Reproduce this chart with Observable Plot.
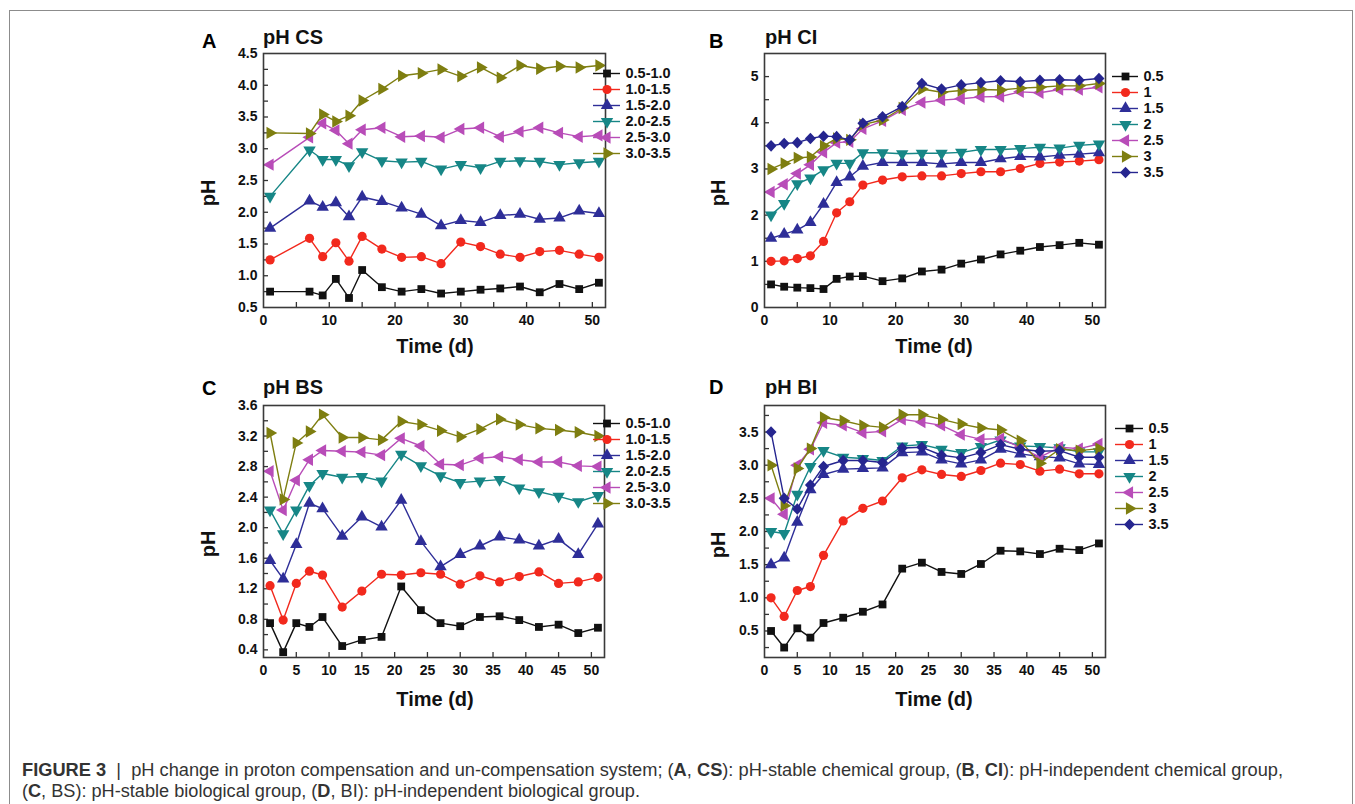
<!DOCTYPE html>
<html>
<head>
<meta charset="utf-8">
<script src="https://cdn.jsdelivr.net/npm/d3@7"></script>
<script src="https://cdn.jsdelivr.net/npm/@observablehq/plot@0.6"></script>
<style>
  html, body { margin: 0; padding: 0; background: #fff; }
  body { width: 1355px; height: 804px; position: relative; overflow: hidden; font-family: "Liberation Sans", Arial, sans-serif; }
  .abs { position: absolute; }
  #box { position: absolute; left: 9px; top: 10px; width: 1342px; height: 820px; border: 1.5px solid #8c8c8c; }
</style>
</head>
<body>
<div id="box"></div>
<div id="root"></div>
<script>
// ---- Panel A: pH-stable chemical group (CS) ----
const csDays = [1, 7, 9, 11, 13, 15, 18, 21, 24, 27, 30, 33, 36, 39, 42, 45, 48, 51];
const cs05 = [0.75, 0.75, 0.69, 0.95, 0.65, 1.09, 0.82, 0.75, 0.79, 0.72, 0.75, 0.78, 0.80, 0.83, 0.74, 0.87, 0.79, 0.89];
const cs10 = [1.25, 1.59, 1.30, 1.52, 1.23, 1.62, 1.42, 1.29, 1.30, 1.19, 1.53, 1.46, 1.34, 1.29, 1.38, 1.40, 1.34, 1.29];
const cs15 = [1.75, 2.18, 2.08, 2.15, 1.93, 2.24, 2.17, 2.07, 1.97, 1.79, 1.87, 1.84, 1.95, 1.97, 1.89, 1.91, 2.02, 1.98];
const cs20 = [2.25, 2.98, 2.83, 2.83, 2.73, 2.95, 2.81, 2.79, 2.80, 2.68, 2.75, 2.70, 2.80, 2.81, 2.80, 2.75, 2.78, 2.80];
const cs25 = [2.75, 3.18, 3.40, 3.29, 3.08, 3.30, 3.33, 3.19, 3.20, 3.18, 3.31, 3.33, 3.19, 3.27, 3.33, 3.25, 3.19, 3.21];
const cs30 = [3.25, 3.24, 3.54, 3.43, 3.52, 3.76, 3.94, 4.15, 4.19, 4.25, 4.14, 4.28, 4.12, 4.31, 4.26, 4.30, 4.28, 4.31];

// ---- Panel B: pH-independent chemical group (CI) ----
const ciDays = [1, 3, 5, 7, 9, 11, 13, 15, 18, 21, 24, 27, 30, 33, 36, 39, 42, 45, 48, 51];
const ci05 = [0.50, 0.45, 0.43, 0.42, 0.40, 0.62, 0.67, 0.68, 0.57, 0.63, 0.78, 0.82, 0.95, 1.04, 1.15, 1.23, 1.31, 1.35, 1.40, 1.36];
const ci10 = [1.00, 1.01, 1.06, 1.12, 1.43, 2.05, 2.29, 2.65, 2.76, 2.83, 2.85, 2.85, 2.90, 2.94, 2.94, 3.01, 3.12, 3.15, 3.17, 3.20];
const ci15 = [1.50, 1.59, 1.68, 1.84, 2.24, 2.71, 2.83, 3.06, 3.14, 3.14, 3.14, 3.11, 3.14, 3.14, 3.22, 3.27, 3.26, 3.30, 3.32, 3.35];
const ci20 = [2.00, 2.25, 2.68, 2.80, 2.98, 3.12, 3.12, 3.35, 3.35, 3.33, 3.34, 3.34, 3.36, 3.42, 3.42, 3.44, 3.47, 3.45, 3.51, 3.54];
const ci25 = [2.50, 2.67, 2.90, 3.09, 3.36, 3.57, 3.59, 3.87, 4.04, 4.28, 4.44, 4.49, 4.52, 4.56, 4.57, 4.67, 4.65, 4.72, 4.72, 4.77];
const ci30 = [3.00, 3.12, 3.24, 3.26, 3.50, 3.66, 3.63, 3.96, 4.06, 4.32, 4.73, 4.66, 4.70, 4.72, 4.71, 4.75, 4.77, 4.80, 4.80, 4.85];
const ci35 = [3.50, 3.55, 3.57, 3.66, 3.71, 3.70, 3.63, 3.99, 4.13, 4.35, 4.85, 4.73, 4.82, 4.87, 4.91, 4.89, 4.92, 4.93, 4.92, 4.96];

// ---- Panel C: pH-stable biological group (BS) ----
const bsDays = [1, 3, 5, 7, 9, 12, 15, 18, 21, 24, 27, 30, 33, 36, 39, 42, 45, 48, 51];
const bs05 = [0.75, 0.37, 0.75, 0.70, 0.83, 0.45, 0.53, 0.57, 1.23, 0.92, 0.75, 0.71, 0.83, 0.84, 0.79, 0.70, 0.73, 0.62, 0.69];
const bs10 = [1.24, 0.79, 1.27, 1.43, 1.38, 0.96, 1.17, 1.39, 1.38, 1.41, 1.39, 1.26, 1.37, 1.29, 1.36, 1.42, 1.27, 1.29, 1.35];
const bs15 = [1.57, 1.33, 1.78, 2.32, 2.25, 1.89, 2.14, 2.01, 2.36, 1.82, 1.49, 1.65, 1.76, 1.88, 1.84, 1.76, 1.85, 1.65, 2.05];
const bs20 = [2.23, 1.92, 2.23, 2.55, 2.71, 2.66, 2.67, 2.61, 2.96, 2.81, 2.68, 2.59, 2.61, 2.63, 2.52, 2.47, 2.41, 2.34, 2.42];
const bs25 = [2.74, 2.23, 2.62, 2.89, 3.01, 3.00, 2.99, 2.95, 3.17, 3.07, 2.83, 2.82, 2.91, 2.93, 2.89, 2.86, 2.86, 2.81, 2.80];
const bs30 = [3.24, 2.37, 3.11, 3.26, 3.48, 3.18, 3.18, 3.15, 3.39, 3.35, 3.27, 3.19, 3.29, 3.42, 3.35, 3.30, 3.28, 3.25, 3.20];

// ---- Panel D: pH-independent biological group (BI) ----
const biDays = [1, 3, 5, 7, 9, 12, 15, 18, 21, 24, 27, 30, 33, 36, 39, 42, 45, 48, 51];
const bi05 = [0.50, 0.25, 0.54, 0.40, 0.62, 0.70, 0.79, 0.90, 1.44, 1.53, 1.39, 1.36, 1.51, 1.71, 1.70, 1.66, 1.74, 1.72, 1.82];
const bi10 = [1.00, 0.72, 1.11, 1.17, 1.64, 2.16, 2.35, 2.46, 2.81, 2.93, 2.86, 2.83, 2.92, 3.03, 3.01, 2.91, 2.94, 2.87, 2.87];
const bi15 = [1.50, 1.60, 2.14, 2.63, 2.86, 2.94, 2.95, 2.96, 3.19, 3.20, 3.08, 3.02, 3.08, 3.24, 3.17, 3.13, 3.11, 3.02, 3.01];
const bi20 = [2.00, 1.97, 2.56, 2.98, 3.22, 3.12, 3.10, 3.07, 3.29, 3.31, 3.24, 3.19, 3.28, 3.38, 3.29, 3.28, 3.26, 3.20, 3.20];
const bi25 = [2.50, 2.26, 3.00, 3.24, 3.64, 3.60, 3.49, 3.51, 3.69, 3.65, 3.60, 3.46, 3.39, 3.40, 3.27, 3.12, 3.27, 3.25, 3.32];
const bi30 = [3.00, 2.39, 2.95, 3.25, 3.72, 3.67, 3.60, 3.57, 3.76, 3.76, 3.69, 3.62, 3.56, 3.53, 3.37, 3.03, 3.24, 3.22, 3.25];
const bi35 = [3.50, 2.50, 2.34, 2.70, 2.98, 3.07, 3.07, 3.04, 3.26, 3.27, 3.15, 3.11, 3.19, 3.31, 3.24, 3.21, 3.22, 3.12, 3.12];

// Legend labels
const rangeLabels = ["0.5-1.0", "1.0-1.5", "1.5-2.0", "2.0-2.5", "2.5-3.0", "3.0-3.5"];
const levelLabels = ["0.5", "1", "1.5", "2", "2.5", "3", "3.5"];

// Series styling (colour + marker), in drawing order
const seriesColors = ["#111111", "#f2291d", "#2e2e98", "#168686", "#b84cb8", "#7e7e10", "#25258f"];

const FONT = '"Liberation Sans", Arial, sans-serif';

// Custom marker shapes sized from the symbol area Plot passes in
function triangle(dir) {
  return {
    draw(ctx, size) {
      const s = Math.sqrt(size * 4 / Math.sqrt(3));
      const h = s * Math.sqrt(3) / 2, a = 2 * h / 3, b = h / 3;
      const pts = {
        up: [[0, -a], [-s / 2, b], [s / 2, b]],
        down: [[0, a], [-s / 2, -b], [s / 2, -b]],
        left: [[-a, 0], [b, -s / 2], [b, s / 2]],
        right: [[a, 0], [-b, -s / 2], [-b, s / 2]]
      }[dir];
      ctx.moveTo(pts[0][0], pts[0][1]);
      ctx.lineTo(pts[1][0], pts[1][1]);
      ctx.lineTo(pts[2][0], pts[2][1]);
      ctx.closePath();
    }
  };
}
const squareSym = { draw(ctx, size) { const w = Math.sqrt(size) / 2; ctx.rect(-w, -w, 2 * w, 2 * w); } };
const diamondSym = { draw(ctx, size) { const d = Math.sqrt(size / 2); ctx.moveTo(0, -d * 1.05); ctx.lineTo(d, 0); ctx.lineTo(0, d * 1.05); ctx.lineTo(-d, 0); ctx.closePath(); } };
const seriesSymbols = [squareSym, "circle", triangle("up"), triangle("down"), triangle("left"), triangle("right"), diamondSym];
const seriesRadius = [4.4, 4.6, 4.6, 4.6, 4.6, 4.6, 4.4];

function steps(a, b, s) {
  const n = Math.round((b - a) / s);
  return d3.range(n + 1).map(i => +(a + i * s).toFixed(3));
}

const root = document.getElementById("root");

function place(node, left, top) {
  node.classList.add("abs");
  node.style.left = left + "px";
  node.style.top = top + "px";
  root.appendChild(node);
}

const TICK_PX = 5;

function panel(cfg) {
  const { frame, days, series, labels, yDomain, yLabels, yTicks, xLabels, xTicks, legend } = cfg;
  const ml = 70, mr = 4, mt = 8, mb = 34;
  const xDomain = [0, 52];
  const fw = frame.R - frame.L, fh = frame.B - frame.T;
  // inward tick lengths expressed in data units of the other axis
  const dy = TICK_PX * (yDomain[1] - yDomain[0]) / fh;
  const dx = TICK_PX * (xDomain[1] - xDomain[0]) / fw;
  const rows = [];
  series.forEach((vals, i) => vals.forEach((v, j) => rows.push({ day: days[j], ph: v, s: labels[i] })));
  const marks = [
    Plot.axisX({ ticks: xLabels, tickSize: 0, tickPadding: 8, label: null, tickFormat: d => String(d) }),
    Plot.axisY({ ticks: yLabels, tickSize: 0, tickPadding: 6, label: null, tickFormat: d => (cfg.yFmt ? d3.format(cfg.yFmt)(d) : String(d)) }),
    Plot.ruleX(xTicks, { x: d => d, y1: () => yDomain[0], y2: () => yDomain[0] + dy, stroke: "#333", strokeWidth: 1.3 }),
    Plot.ruleY(yTicks, { y: d => d, x1: () => xDomain[0], x2: () => xDomain[0] + dx, stroke: "#333", strokeWidth: 1.3 })
  ];
  labels.forEach((lab, i) => {
    const sub = rows.filter(r => r.s === lab);
    marks.push(Plot.line(sub, { x: "day", y: "ph", stroke: seriesColors[i], strokeWidth: 1.4 }));
    marks.push(Plot.dot(sub, { x: "day", y: "ph", fill: seriesColors[i], stroke: "none", symbol: seriesSymbols[i], r: seriesRadius[i] }));
  });
  marks.push(Plot.frame({ stroke: "#3a3a3a", strokeWidth: 1.6 }));

  const chart = Plot.plot({
    width: fw + ml + mr,
    height: fh + mt + mb,
    marginLeft: ml, marginRight: mr, marginTop: mt, marginBottom: mb,
    x: { domain: xDomain },
    y: { domain: yDomain },
    style: { fontFamily: FONT, fontSize: "14px", fontWeight: "bold", color: "#111", background: "transparent", overflow: "visible" },
    marks
  });
  place(chart, frame.L - ml, frame.T - mt);

  // Legend: short line + marker + label per series
  const n = labels.length;
  const pad = 12;
  const legendMarks = [];
  labels.forEach((lab, i) => {
    legendMarks.push(Plot.ruleY([lab], { y: d => d, x1: () => 0, x2: () => 1, stroke: seriesColors[i], strokeWidth: 1.4 }));
    legendMarks.push(Plot.dot([lab], { y: d => d, x: () => 0.5, fill: seriesColors[i], stroke: "none", symbol: seriesSymbols[i], r: seriesRadius[i] }));
  });
  legendMarks.push(Plot.text(labels, { y: d => d, x: () => 1, text: d => d, textAnchor: "start", dx: 5, fill: "#111" }));
  const leg = Plot.plot({
    width: 110, height: (n - 1) * legend.step + 2 * pad,
    margin: 0,
    x: { domain: [0, 1], range: [0, legend.len], axis: null },
    y: { type: "point", domain: labels, range: [pad, pad + (n - 1) * legend.step], axis: null },
    style: { fontFamily: FONT, fontSize: "14.5px", fontWeight: "bold", color: "#111", background: "transparent", overflow: "visible" },
    marks: legendMarks
  });
  place(leg, legend.x, legend.y - pad);
}

panel({
  frame: { L: 263, R: 605, T: 53, B: 307 },
  days: csDays, series: [cs05, cs10, cs15, cs20, cs25, cs30], labels: rangeLabels,
  yDomain: [0.5, 4.5], yLabels: steps(0.5, 4.5, 0.5), yTicks: steps(0.75, 4.25, 0.25), yFmt: ".1f",
  xLabels: steps(0, 50, 10), xTicks: steps(5, 50, 5),
  legend: { x: 593, y: 64, step: 19.6, len: 27 }
});
panel({
  frame: { L: 764, R: 1105, T: 53, B: 307 },
  days: ciDays, series: [ci05, ci10, ci15, ci20, ci25, ci30, ci35], labels: levelLabels,
  yDomain: [0, 5.5], yLabels: steps(0, 5, 1), yTicks: steps(0.5, 5, 0.5),
  xLabels: steps(0, 50, 10), xTicks: steps(5, 50, 5),
  legend: { x: 1112, y: 65, step: 19.7, len: 26 }
});
panel({
  frame: { L: 263, R: 604, T: 405, B: 657 },
  days: bsDays, series: [bs05, bs10, bs15, bs20, bs25, bs30], labels: rangeLabels,
  yDomain: [0.3, 3.6], yLabels: steps(0.4, 3.6, 0.4), yTicks: steps(0.4, 3.4, 0.2), yFmt: ".1f",
  xLabels: steps(0, 50, 5), xTicks: steps(5, 50, 5),
  legend: { x: 593, y: 414, step: 19.6, len: 27 }
});
panel({
  frame: { L: 764, R: 1105, T: 405, B: 657 },
  days: biDays, series: [bi05, bi10, bi15, bi20, bi25, bi30, bi35], labels: levelLabels,
  yDomain: [0.1, 3.9], yLabels: steps(0.5, 3.5, 0.5), yTicks: steps(0.25, 3.75, 0.25), yFmt: ".1f",
  xLabels: steps(0, 50, 5), xTicks: steps(5, 50, 5),
  legend: { x: 1115, y: 417, step: 19.6, len: 28 }
});

// Panel letters, titles, axis titles and the figure caption
const overlay = d3.select(root).append("svg")
  .attr("class", "abs").style("left", "0px").style("top", "0px")
  .attr("width", 1355).attr("height", 804)
  .style("font-family", FONT).style("pointer-events", "none");

const heads = [
  { letter: "A", lx: 202, ly: 48, title: "pH CS", tx: 263, ty: 44 },
  { letter: "B", lx: 709, ly: 48, title: "pH CI", tx: 765, ty: 44 },
  { letter: "C", lx: 202, ly: 395, title: "pH BS", tx: 263, ty: 394 },
  { letter: "D", lx: 709, ly: 394, title: "pH BI", tx: 765, ty: 394 }
];
heads.forEach(h => {
  overlay.append("text").attr("x", h.lx).attr("y", h.ly).attr("font-size", 20).attr("font-weight", "bold").attr("fill", "#000").text(h.letter);
  overlay.append("text").attr("x", h.tx).attr("y", h.ty).attr("font-size", 20).attr("font-weight", "bold").attr("fill", "#111").text(h.title);
});

const axisTitles = [
  { yx: 215, yy: 193, xx: 435, xy: 353 },
  { yx: 725, yy: 193, xx: 934, xy: 353 },
  { yx: 215, yy: 544, xx: 435, xy: 706 },
  { yx: 725, yy: 545, xx: 934, xy: 706 }
];
axisTitles.forEach(a => {
  overlay.append("text").attr("transform", `translate(${a.yx},${a.yy}) rotate(-90)`)
    .attr("text-anchor", "middle").attr("font-size", 20).attr("font-weight", "bold").attr("fill", "#111").text("pH");
  overlay.append("text").attr("x", a.xx).attr("y", a.xy)
    .attr("text-anchor", "middle").attr("font-size", 20).attr("font-weight", "bold").attr("fill", "#111").text("Time (d)");
});

const captionLines = [
  { width: 1261, parts: [["FIGURE 3", true], ["  |  ", false], ["pH change in proton compensation and un-compensation system; (", false], ["A", true], [", ", false], ["CS", true],
     ["): pH-stable chemical group, (", false], ["B", true], [", ", false], ["CI", true], ["): pH-independent chemical group,", false]] },
  { width: 618, parts: [["(", false], ["C", true], [", BS): pH-stable biological group, (", false], ["D", true], [", BI): pH-independent biological group.", false]] }
];
captionLines.forEach((line, k) => {
  const t = overlay.append("text").attr("x", 22).attr("y", 776 + k * 20.5)
    .attr("font-size", 17.5).attr("fill", "#333").attr("xml:space", "preserve").style("white-space", "pre")
    .attr("textLength", line.width).attr("lengthAdjust", "spacingAndGlyphs");
  line.parts.forEach(([s, b]) => t.append("tspan").attr("font-weight", b ? "bold" : "normal").text(s));
});
</script>
</body>
</html>
